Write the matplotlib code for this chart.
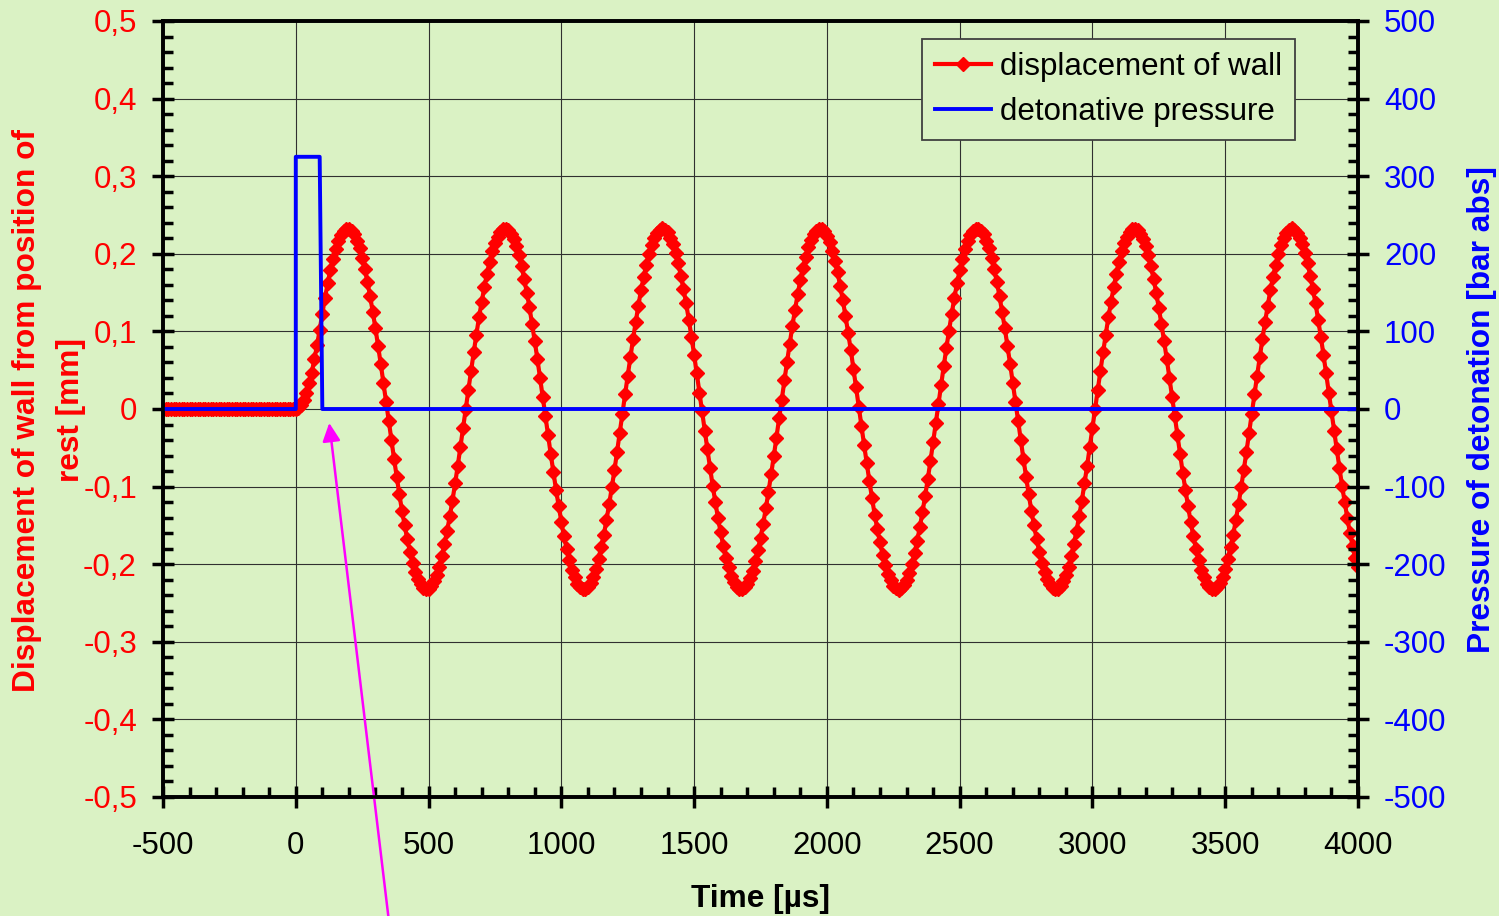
import numpy as np
import matplotlib
matplotlib.use('Agg')
import matplotlib.pyplot as plt
from matplotlib.ticker import MultipleLocator, FuncFormatter

plt.rcParams['font.family'] = ['Liberation Sans', 'DejaVu Sans']
plt.rcParams['axes.unicode_minus'] = False

# wall series, one sample every 10 µs from -500 to 4000
time_us = np.arange(-500, 4001, 10)

displacement_mm = [
    # -500 .. -10 (at rest)
    0.0, 0.0, 0.0, 0.0, 0.0, 0.0, 0.0, 0.0, 0.0, 0.0,
    0.0, 0.0, 0.0, 0.0, 0.0, 0.0, 0.0, 0.0, 0.0, 0.0,
    0.0, 0.0, 0.0, 0.0, 0.0, 0.0, 0.0, 0.0, 0.0, 0.0,
    0.0, 0.0, 0.0, 0.0, 0.0, 0.0, 0.0, 0.0, 0.0, 0.0,
    0.0, 0.0, 0.0, 0.0, 0.0, 0.0, 0.0, 0.0, 0.0, 0.0,
    # 0 .. 90
    0.000, 0.001, 0.005, 0.012, 0.021, 0.033, 0.047, 0.064, 0.082, 0.102,
    # 100 ..
    0.123, 0.143, 0.162, 0.179, 0.193, 0.206, 0.216, 0.224, 0.229, 0.232,
    0.232, 0.230, 0.225, 0.217, 0.207, 0.195, 0.180, 0.164, 0.145, 0.125,
    0.104, 0.081, 0.058, 0.034, 0.009, -0.015, -0.040, -0.064, -0.087, -0.110,
    -0.131, -0.150, -0.168, -0.184, -0.198, -0.210, -0.219, -0.226, -0.231, -0.232,
    -0.232, -0.228, -0.222, -0.214, -0.203, -0.190, -0.174, -0.157, -0.138, -0.118,
    -0.096, -0.073, -0.049, -0.025, 0.000, 0.025, 0.049, 0.073, 0.096, 0.118,
    0.138, 0.157, 0.174, 0.190, 0.203, 0.214, 0.222, 0.228, 0.232, 0.232,
    0.231, 0.226, 0.219, 0.210, 0.198, 0.184, 0.168, 0.150, 0.131, 0.109,
    0.087, 0.064, 0.040, 0.015, -0.009, -0.034, -0.058, -0.081, -0.104, -0.125,
    # 1000 ..
    -0.145, -0.164, -0.180, -0.195, -0.207, -0.217, -0.225, -0.230, -0.232, -0.232,
    -0.229, -0.224, -0.216, -0.206, -0.193, -0.178, -0.162, -0.143, -0.123, -0.101,
    -0.079, -0.055, -0.031, -0.006, 0.019, 0.043, 0.067, 0.090, 0.112, 0.133,
    0.153, 0.170, 0.186, 0.200, 0.211, 0.220, 0.227, 0.231, 0.233, 0.231,
    0.228, 0.221, 0.212, 0.201, 0.188, 0.172, 0.155, 0.136, 0.115, 0.093,
    0.070, 0.046, 0.021, -0.003, -0.028, -0.052, -0.076, -0.099, -0.120, -0.141,
    -0.159, -0.177, -0.192, -0.204, -0.215, -0.223, -0.229, -0.232, -0.232, -0.230,
    -0.226, -0.218, -0.209, -0.196, -0.182, -0.166, -0.148, -0.128, -0.107, -0.084,
    -0.061, -0.037, -0.012, 0.012, 0.037, 0.061, 0.084, 0.107, 0.128, 0.148,
    0.166, 0.182, 0.196, 0.209, 0.218, 0.226, 0.230, 0.232, 0.232, 0.229,
    # 2000 ..
    0.223, 0.215, 0.204, 0.191, 0.176, 0.159, 0.140, 0.120, 0.098, 0.076,
    0.052, 0.028, 0.003, -0.022, -0.046, -0.070, -0.093, -0.115, -0.136, -0.155,
    -0.172, -0.188, -0.201, -0.213, -0.221, -0.228, -0.231, -0.233, -0.231, -0.227,
    -0.220, -0.211, -0.200, -0.186, -0.170, -0.152, -0.133, -0.112, -0.090, -0.067,
    -0.043, -0.018, 0.006, 0.031, 0.055, 0.079, 0.101, 0.123, 0.143, 0.162,
    0.179, 0.193, 0.206, 0.216, 0.224, 0.229, 0.232, 0.232, 0.230, 0.225,
    0.217, 0.207, 0.195, 0.180, 0.164, 0.145, 0.125, 0.104, 0.081, 0.058,
    0.034, 0.009, -0.015, -0.040, -0.064, -0.087, -0.110, -0.131, -0.150, -0.168,
    -0.184, -0.198, -0.210, -0.219, -0.226, -0.231, -0.232, -0.232, -0.228, -0.222,
    -0.214, -0.203, -0.190, -0.174, -0.157, -0.138, -0.118, -0.096, -0.073, -0.049,
    # 3000 ..
    -0.025, 0.000, 0.025, 0.049, 0.073, 0.096, 0.118, 0.138, 0.157, 0.174,
    0.190, 0.203, 0.214, 0.222, 0.228, 0.232, 0.232, 0.231, 0.226, 0.219,
    0.210, 0.198, 0.184, 0.168, 0.150, 0.130, 0.109, 0.087, 0.064, 0.040,
    0.015, -0.009, -0.034, -0.058, -0.082, -0.104, -0.125, -0.146, -0.164, -0.180,
    -0.195, -0.207, -0.217, -0.225, -0.230, -0.232, -0.232, -0.229, -0.224, -0.216,
    -0.206, -0.193, -0.178, -0.162, -0.143, -0.123, -0.101, -0.078, -0.055, -0.031,
    -0.006, 0.019, 0.043, 0.067, 0.090, 0.112, 0.133, 0.153, 0.170, 0.186,
    0.200, 0.211, 0.220, 0.227, 0.231, 0.233, 0.231, 0.227, 0.221, 0.212,
    0.201, 0.188, 0.172, 0.155, 0.136, 0.115, 0.093, 0.070, 0.046, 0.021,
    -0.003, -0.028, -0.052, -0.076, -0.099, -0.120, -0.141, -0.160, -0.177, -0.192,
    # 4000
    -0.204,
]

# detonation pulse
pressure_time_us = [-500, 0, 0, 90, 100, 4000]
pressure_bar = [0, 0, 325, 325, 0, 0]

# arrow pointing at end of the pulse
arrow_tip = (126, -0.018)

bg = '#DAF2C4'
fs = 22.5
fs_title = 22.8

fig = plt.figure(figsize=(14.99, 9.16), dpi=100, facecolor=bg)
ax = fig.add_axes([163 / 1499, 1 - 797 / 916, 1195 / 1499, 776 / 916])
ax.set_facecolor(bg)
ax2 = ax.twinx()

l1, = ax.plot(time_us, displacement_mm, color='#FF0000', lw=3, marker='D',
              markersize=6.8, markeredgewidth=1, label='displacement of wall')
l2, = ax2.plot(pressure_time_us, pressure_bar, color='#0000FF', lw=2.8,
               label='detonative pressure')

ax.set_xlim(-500, 4000)
ax.set_ylim(-0.5, 0.5)
ax2.set_ylim(-500, 500)

ax.xaxis.set_major_locator(MultipleLocator(500))
ax.xaxis.set_minor_locator(MultipleLocator(100))
ax.yaxis.set_major_locator(MultipleLocator(0.1))
ax.yaxis.set_minor_locator(MultipleLocator(0.02))
ax2.yaxis.set_major_locator(MultipleLocator(100))
ax2.yaxis.set_minor_locator(MultipleLocator(20))

ax.yaxis.set_major_formatter(FuncFormatter(
    lambda v, p: '0' if abs(v) < 1e-9 else f'{v:.1f}'.replace('.', ',')))
ax2.yaxis.set_major_formatter(FuncFormatter(lambda v, p: f'{v:.0f}'))
ax.xaxis.set_major_formatter(FuncFormatter(lambda v, p: f'{v:.0f}'))

ax.grid(True, which='major', color='#303030', lw=0.8)
ax.set_axisbelow(True)

for a in (ax, ax2):
    for s in a.spines.values():
        s.set_linewidth(2.6)
        s.set_color('black')

ax.tick_params(which='major', direction='inout', length=15.5, width=2.5,
               labelsize=fs, pad=11)
ax.tick_params(which='minor', direction='in', length=7, width=2.5)
ax.tick_params(axis='y', colors='black', labelcolor='#FF0000', right=False)
ax.tick_params(axis='x', which='both', top=False, labelcolor='black')
ax.tick_params(axis='x', which='major', pad=17)
ax2.tick_params(which='major', direction='inout', length=15.5, width=2.5,
                labelsize=fs, pad=11, labelcolor='#0000FF')
ax2.tick_params(which='minor', direction='in', length=7, width=2.5)

# axis titles
fig.text(27 / 1499, 1 - 410 / 916, 'Displacement of wall from position of',
         rotation=90, ha='center', va='center', color='#FF0000',
         fontsize=fs_title, fontweight='bold')
fig.text(71 / 1499, 1 - 410 / 916, 'rest [mm]', rotation=90, ha='center',
         va='center', color='#FF0000', fontsize=fs_title, fontweight='bold')
fig.text(1482 / 1499, 1 - 410 / 916, 'Pressure of detonation [bar abs]',
         rotation=90, ha='center', va='center', color='#0000FF',
         fontsize=fs_title, fontweight='bold')
fig.text(761 / 1499, 1 - 899 / 916, 'Time [µs]', ha='center', va='center',
         color='black', fontsize=fs_title, fontweight='bold')

leg = ax2.legend(handles=[l1, l2], loc='upper left',
                 bbox_to_anchor=(922 / 1499, 1 - 39 / 916),
                 bbox_transform=fig.transFigure, borderaxespad=0,
                 fontsize=fs, fancybox=False, framealpha=1, facecolor=bg,
                 edgecolor='#404040', handlelength=1.8, handletextpad=0.3,
                 borderpad=0.4, labelspacing=0.5)
leg.get_frame().set_linewidth(1.3)

ax.annotate('', xy=arrow_tip, xycoords='data',
            xytext=(390.7, -20), textcoords='figure pixels',
            annotation_clip=False,
            arrowprops=dict(arrowstyle='-|>,head_length=0.55,head_width=0.27',
                            color='#FF00FF', lw=1.8, mutation_scale=20,
                            shrinkA=0, shrinkB=0))

fig.savefig('out.png', dpi=100, facecolor=bg)
